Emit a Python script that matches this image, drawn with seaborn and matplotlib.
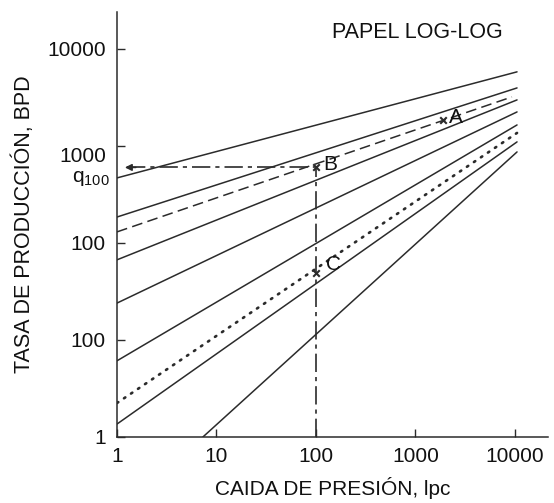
import matplotlib
matplotlib.use("Agg")
import matplotlib.pyplot as plt
from matplotlib.ticker import NullLocator
from matplotlib.transforms import ScaledTranslation
import pandas as pd
import seaborn as sns

# ---- data (x = pressure drop, y = rate) ----
line_ids = ["L1", "L2", "L3", "L4", "L5", "L6", "L7", "L8", "L9"]
drop_start = [1, 1, 1, 1, 1, 1, 1, 1, 7.3]
drop_end = [10500, 10500, 9330, 10500, 10500, 10500, 10500, 10500, 10500]
rate_start = [468, 185, 130, 67, 24, 6.1, 2.24, 1.36, 1]
rate_end = [5800, 3960, 3200, 2980, 2240, 1645, 1361, 1100, 867]
line_kind = ["solid", "solid", "dashed", "solid", "solid", "solid", "dotted", "solid", "solid"]

point_names = ["A", "B", "C"]
point_drop = [1890, 100, 100]
point_rate = [1850, 600, 49]

q100_rate = 600
guide_drop = 100

x_ticks = [1, 10, 100, 1000, 10000]
x_tick_labels = ["1", "10", "100", "1000", "10000"]
y_ticks = [1, 10, 100, 1000, 10000]
y_tick_labels = ["1", "100", "100", "1000", "10000"]

title_text = "PAPEL LOG-LOG"
x_label = "CAIDA DE PRESIÓN, lpc"
y_label = "TASA DE PRODUCCIÓN, BPD"

# ---- style ----
sns.set_style("ticks")
plt.rcParams["font.family"] = ["Liberation Sans", "DejaVu Sans"]
ink = "#2b2b2b"

fig = plt.figure(figsize=(5.54, 5.03), dpi=100)
ax = fig.add_axes([117 / 554, 66 / 503, 431 / 554, 425 / 503])

rows = []
for lid, x0, x1, y0, y1, k in zip(line_ids, drop_start, drop_end, rate_start, rate_end, line_kind):
    rows.append({"line": lid, "drop": x0, "rate": y0, "kind": k})
    rows.append({"line": lid, "drop": x1, "rate": y1, "kind": k})
df = pd.DataFrame(rows)

style_map = {
    "solid": dict(linestyle="-", linewidth=1.1),
    "dashed": dict(linestyle=(0, (7, 3.5)), linewidth=1.1),
    "dotted": dict(linestyle=(0, (0.6, 2.6)), linewidth=1.9, dash_capstyle="round"),
}
for lid in line_ids:
    sub = df[df["line"] == lid]
    kind = sub["kind"].iloc[0]
    sns.lineplot(data=sub, x="drop", y="rate", ax=ax, color=ink,
                 estimator=None, sort=True, legend=False, **style_map[kind])

# guide lines through B
guide_h = pd.DataFrame({"drop": [1.25, guide_drop], "rate": [q100_rate, q100_rate]})
guide_v = pd.DataFrame({"drop": [guide_drop, guide_drop], "rate": [1, q100_rate]})
dashdot = (0, (11, 3, 2.5, 3))
sns.lineplot(data=guide_h, x="drop", y="rate", ax=ax, color=ink, linewidth=1.2,
             linestyle=dashdot, estimator=None, legend=False)
sns.lineplot(data=guide_v, x="drop", y="rate", ax=ax, color=ink, linewidth=1.2,
             linestyle=dashdot, estimator=None, legend=False, sort=False)
ax.annotate("", xy=(1.2, q100_rate), xytext=(1.55, q100_rate),
            arrowprops=dict(arrowstyle="-|>", color=ink, lw=1.1, mutation_scale=10,
                            shrinkA=0, shrinkB=0))

# marked points
sns.scatterplot(x=point_drop, y=point_rate, ax=ax, marker="x", s=22, color=ink,
                linewidth=1.5, legend=False, zorder=5)
offsets = {"A": (4, 2), "B": (5, 2), "C": (7, 6)}
for name, px, py in zip(point_names, point_drop, point_rate):
    ax.annotate(name, xy=(px, py), xytext=offsets[name], textcoords="offset points",
                ha="left", va="center", fontsize=15, color="#111111")

ax.annotate(r"$\mathregular{q_{100}}$", xy=(0, q100_rate), xycoords=("axes fraction", "data"),
            xytext=(-5, -8), textcoords="offset points", ha="right", va="center",
            fontsize=15, color="#111111")

# axes
ax.set_xscale("log")
ax.set_yscale("log")
ax.set_xlim(1, 21500)
ax.set_ylim(1, 24000)
ax.set_xticks(x_ticks)
ax.set_xticklabels(x_tick_labels)
ax.set_yticks(y_ticks)
ax.set_yticklabels(y_tick_labels)
ax.xaxis.set_minor_locator(NullLocator())
ax.yaxis.set_minor_locator(NullLocator())
ax.tick_params(direction="in", length=6, width=1.0, color=ink, labelsize=15,
               labelcolor="#111111")
ax.tick_params(axis="y", pad=8)
ax.tick_params(axis="x", pad=7)
for s in ["top", "right"]:
    ax.spines[s].set_visible(False)
for s in ["left", "bottom"]:
    ax.spines[s].set_color(ink)
    ax.spines[s].set_linewidth(1.1)

# nudge the 1000 label down slightly as in the reference
for lab in ax.get_yticklabels():
    if lab.get_text() == "1000":
        lab.set_transform(lab.get_transform() + ScaledTranslation(0, -0.09, fig.dpi_scale_trans))

ax.set_xlabel(x_label, fontsize=15, color="#111111", labelpad=8)
ax.set_ylabel(y_label, fontsize=15.5, color="#111111", labelpad=9)
ax.text(417 / 554, 1 - 32 / 503, title_text, transform=fig.transFigure,
        ha="center", va="center", fontsize=15.5, color="#111111")

fig.savefig("out.png", dpi=100)
